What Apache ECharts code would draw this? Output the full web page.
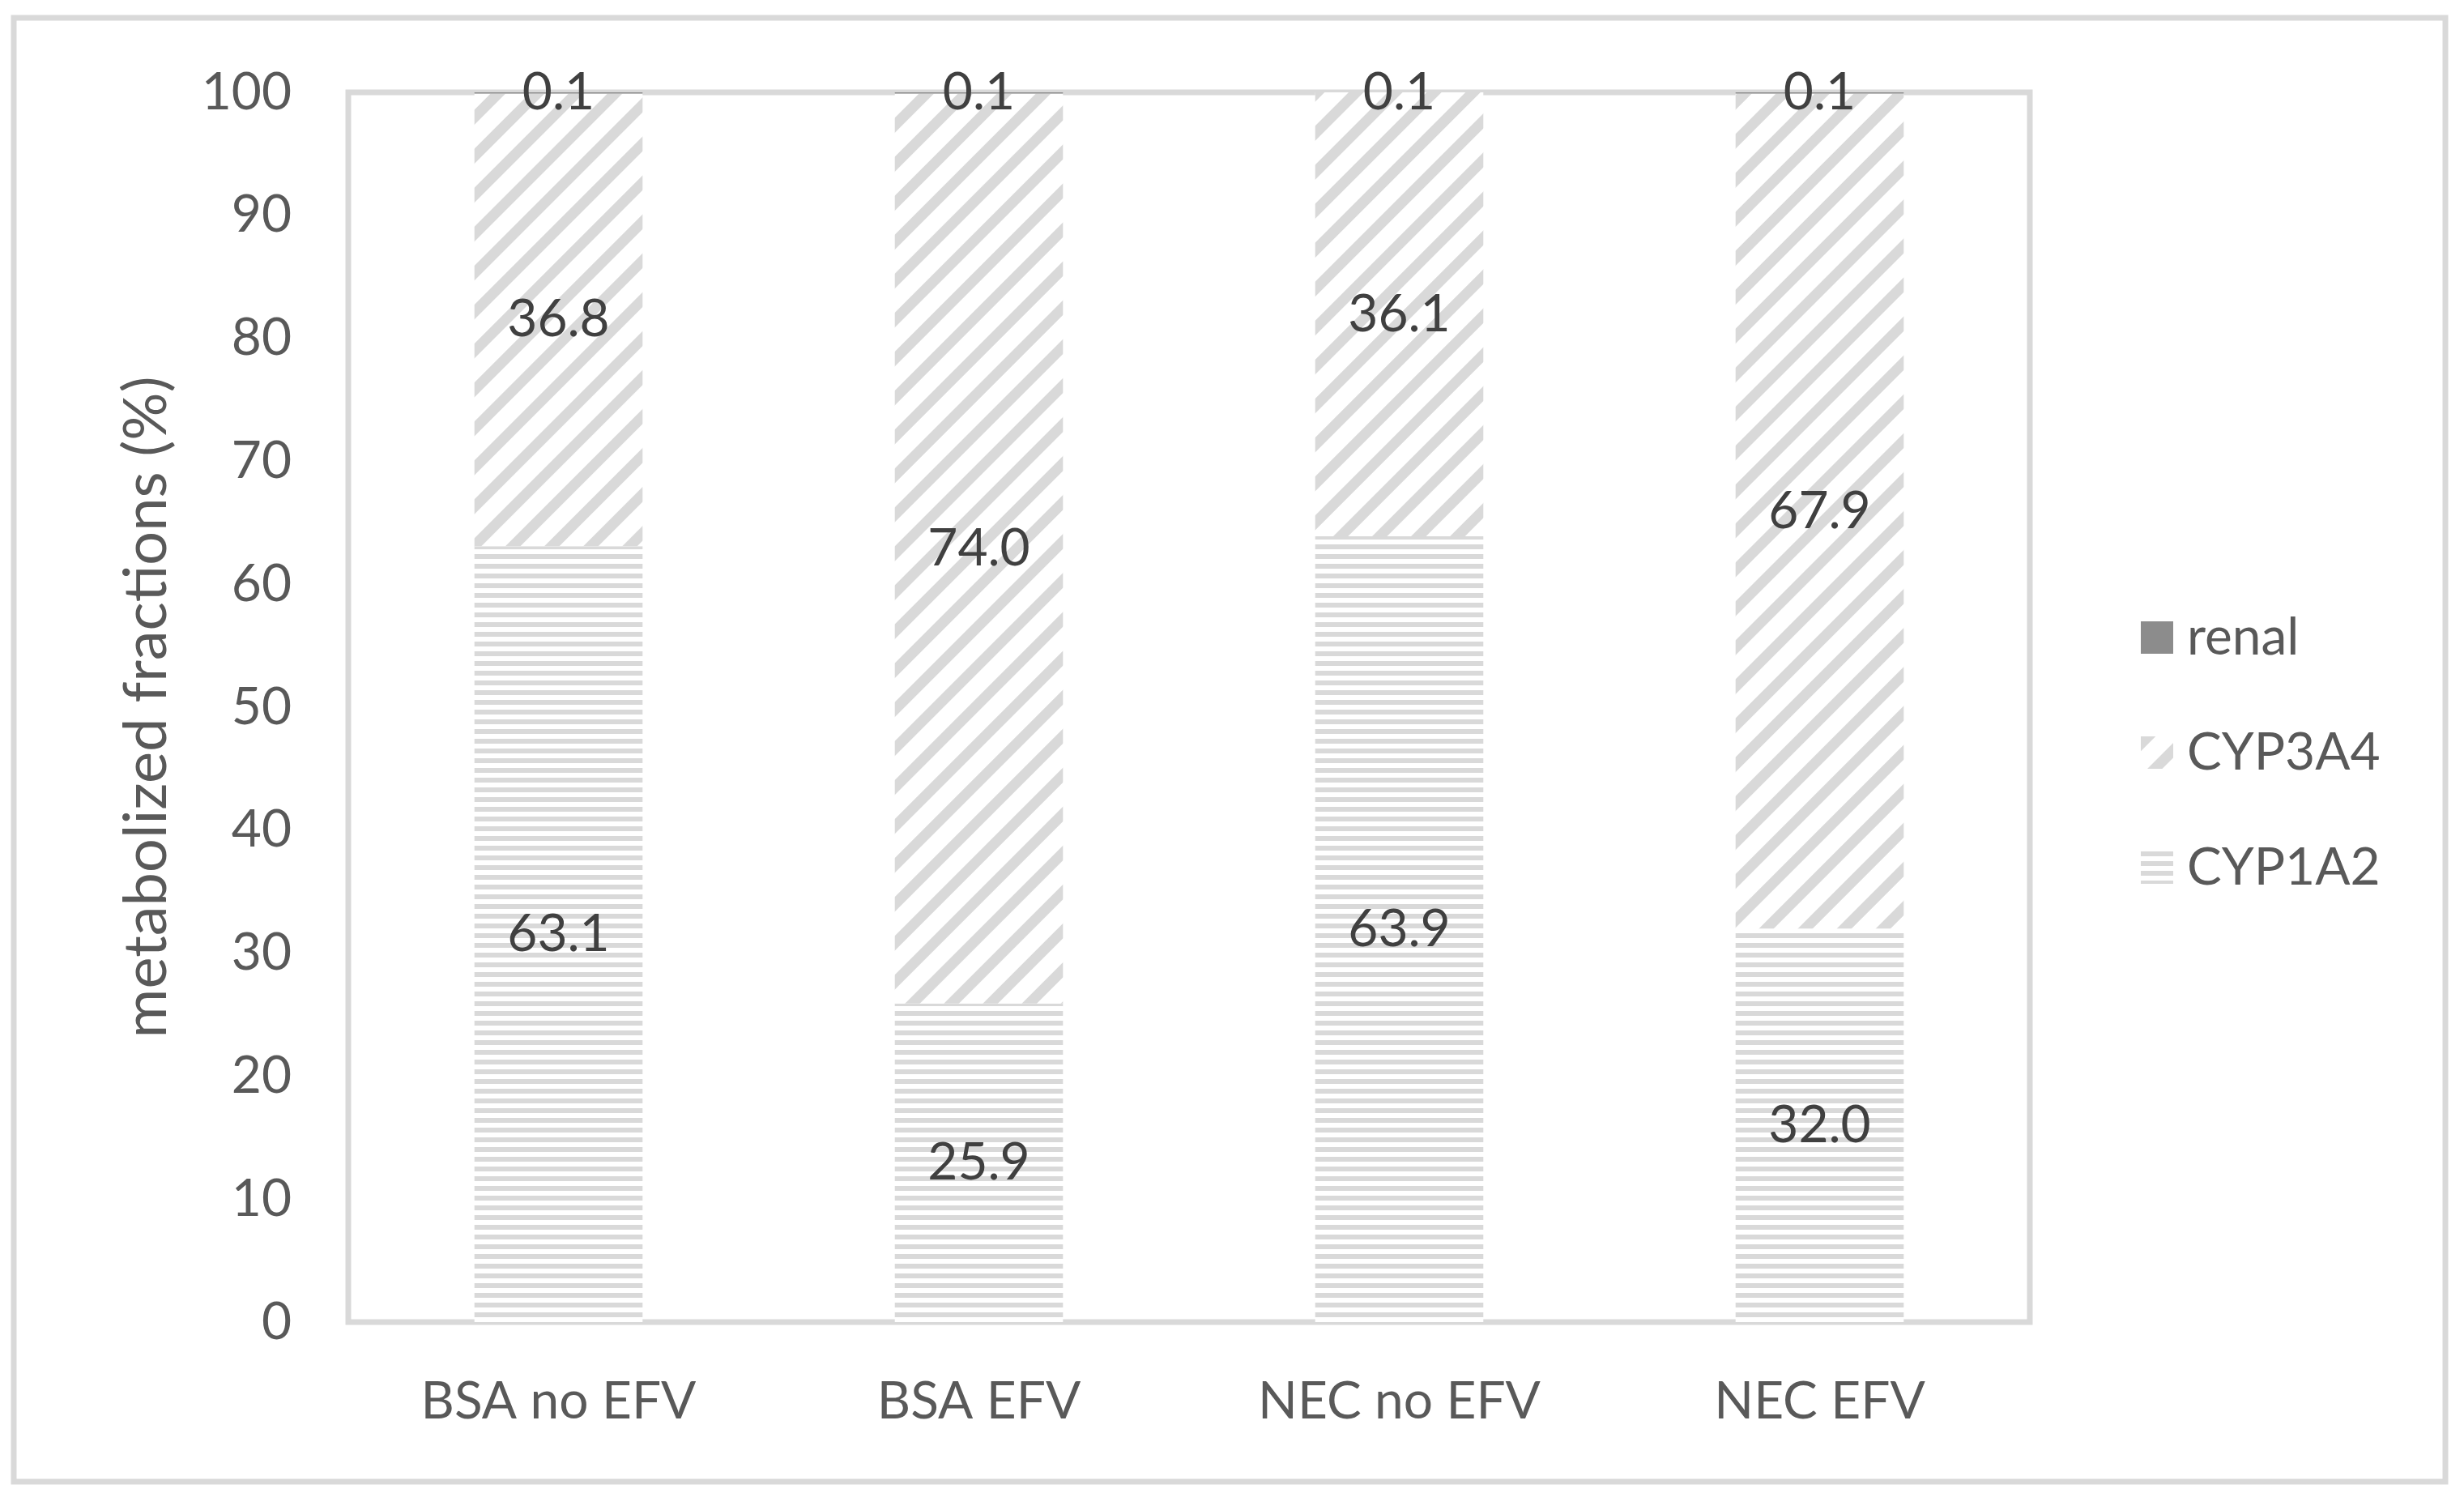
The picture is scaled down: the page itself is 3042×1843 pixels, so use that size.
<!DOCTYPE html>
<html>
<head>
<meta charset="utf-8">
<script src="https://cdn.jsdelivr.net/npm/echarts@6/dist/echarts.min.js"></script>
<style>
html,body{margin:0;padding:0;background:#fff;}
#chart{width:3042px;height:1843px;}
</style>
</head>
<body>
<div id="chart"></div>
<script>
var categories = ['BSA no EFV', 'BSA EFV', 'NEC no EFV', 'NEC EFV'];
var cyp1a2 = [63.1, 25.9, 63.9, 32.0];
var cyp3a4 = [36.8, 74.0, 36.1, 67.9];
var renal = [0.1, 0.1, 0.1, 0.1];
var yTicks = [0, 10, 20, 30, 40, 50, 60, 70, 80, 90, 100];

var FONT = 'Lato';
var chart = echarts.init(document.getElementById('chart'), null, {renderer: 'canvas'});
var labelCfg = {
  show: true, position: 'inside', color: '#404040', fontFamily: FONT, fontSize: 64,
  formatter: function (p) { return p.value.toFixed(1); }
};
chart.setOption({
  animation: false,
  backgroundColor: '#ffffff',
  graphic: [{
    type: 'rect', silent: true, z: -10,
    shape: {x: 17, y: 22, width: 3002, height: 1807},
    style: {fill: 'none', stroke: '#d9d9d9', lineWidth: 7}
  }],
  grid: {
    left: 430, right: 536, top: 114, bottom: 211,
    show: true, borderColor: '#d9d9d9', borderWidth: 7, backgroundColor: 'transparent'
  },
  legend: {
    orient: 'vertical', left: 2638, top: 750,
    icon: 'rect',
    data: ['renal', 'CYP3A4', 'CYP1A2'],
    itemWidth: 40, itemHeight: 40, itemGap: 78,
    textStyle: {color: '#595959', fontFamily: FONT, fontSize: 64, lineHeight: 64, padding: [0, 0, 0, 12]}
  },
  xAxis: {
    type: 'category', data: categories,
    axisLine: {show: false}, axisTick: {show: false},
    axisLabel: {color: '#595959', fontFamily: FONT, fontSize: 64, margin: 66}
  },
  yAxis: {
    type: 'value', min: 0, max: 100, interval: 10,
    name: 'metabolized fractions (%)', nameLocation: 'middle', nameRotate: 90, nameGap: 212,
    nameTextStyle: {color: '#595959', fontFamily: FONT, fontSize: 74},
    axisLine: {show: false}, axisTick: {show: false}, splitLine: {show: false},
    axisLabel: {color: '#595959', fontFamily: FONT, fontSize: 64, margin: 70,
      formatter: function (v) { return yTicks.indexOf(v) >= 0 ? String(v) : ''; }}
  },
  series: [
    {
      name: 'CYP1A2', type: 'bar', stack: 'total', barWidth: '40%', data: cyp1a2,
      itemStyle: {color: '#ffffff', decal: {symbol: 'rect', symbolSize: 1, color: '#d9d9d9', dashArrayX: [1, 0], dashArrayY: [6, 6], rotation: 0}},
      label: labelCfg
    },
    {
      name: 'CYP3A4', type: 'bar', stack: 'total', barWidth: '40%', data: cyp3a4,
      itemStyle: {color: '#ffffff', decal: {symbol: 'rect', symbolSize: 1, color: '#d9d9d9', dashArrayX: [1, 0], dashArrayY: [13, 21], rotation: -Math.PI / 4}},
      label: labelCfg
    },
    {
      name: 'renal', type: 'bar', stack: 'total', barWidth: '40%', data: renal,
      itemStyle: {color: '#8c8c8c'},
      label: labelCfg
    }
  ]
});
</script>
</body>
</html>
